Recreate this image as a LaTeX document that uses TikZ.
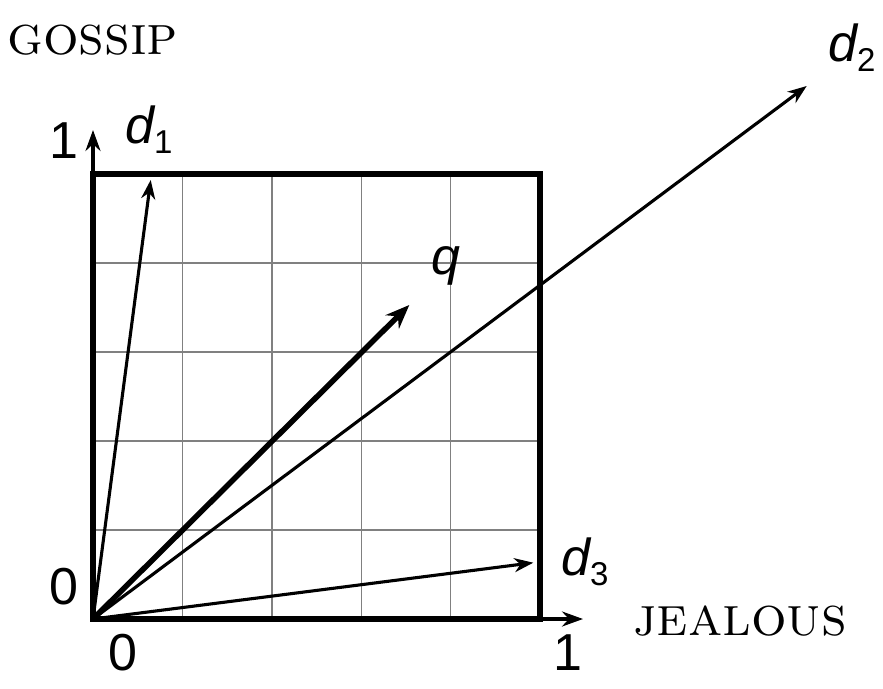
\documentclass[tikz,border=0pt]{standalone}
\usepackage{fontspec}
\newfontfamily\lab{Liberation Sans}
\usetikzlibrary{arrows.meta}
\begin{document}
\begin{tikzpicture}[x=1pt,y=-1pt,
  num/.style={font=\lab\fontsize{52}{52}\selectfont, inner sep=0pt},
  vlab/.style={font=\lab\fontsize{52}{52}\selectfont, inner sep=0pt, anchor=base west},
  word/.style={font=\fontsize{56}{56}\selectfont\scshape, inner sep=0pt, anchor=base west},
  gridline/.style={draw=black!50, line width=1.4pt},
  frame/.style={draw=black, line width=5.5pt, line join=miter},
  axis/.style={line width=3.8pt, -{Stealth[length=21pt,width=15pt,inset=7pt]}},
  vec/.style={line width=3.1pt, -{Stealth[length=19pt,width=14pt,inset=6pt]}},
  qvec/.style={line width=5.5pt, -{Stealth[length=24pt,width=19pt,inset=8pt]}}
]
\useasboundingbox (0,0) rectangle (883,688);
\newcommand{\sub}[1]{\raisebox{-10pt}{\upshape\fontsize{33}{33}\selectfont #1}}
% coordinates
\coordinate (O) at (93,619);
\coordinate (TR) at (540,174);
\coordinate (Ytip) at (93,130);
\coordinate (Xtip) at (583,619);
\coordinate (D1) at (150.7,180);
\coordinate (D2) at (806.7,86);
\coordinate (Q) at (409.3,305);
\coordinate (D3) at (533.3,562.7);
% grid
\foreach \gx in {182.4,271.8,361.2,450.6} \draw[gridline] (\gx,619) -- (\gx,174);
\foreach \gy in {530,441,352,263} \draw[gridline] (93,\gy) -- (540,\gy);
% frame
\draw[frame] (O) rectangle (TR);
% axes
\draw[axis] (O) -- (Ytip);
\draw[axis] (O) -- (Xtip);
% vectors
\draw[vec] (O) -- (D1);
\draw[vec] (O) -- (D2);
\draw[vec] (O) -- (D3);
\draw[qvec] (O) -- (Q);
% labels
\node[word] (gossip) at (7,54) {gossip};
\node[word] (jealous) at (633,635) {jealous};
\node[num] (y1) at (63.5,141) {1};
\node[num] (y0) at (64,587) {0};
\node[num] (x0) at (123,653) {0};
\node[num] (x1) at (568,653) {1};
\node[vlab] (l1) at (125,143) {\itshape d\sub{1}};
\node[vlab] (l2) at (828,61) {\itshape d\sub{2}};
\node[vlab] (l3) at (561,575) {\itshape d\sub{3}};
\node[vlab] (lq) at (431,274) {\itshape q};
\end{tikzpicture}
\end{document}
